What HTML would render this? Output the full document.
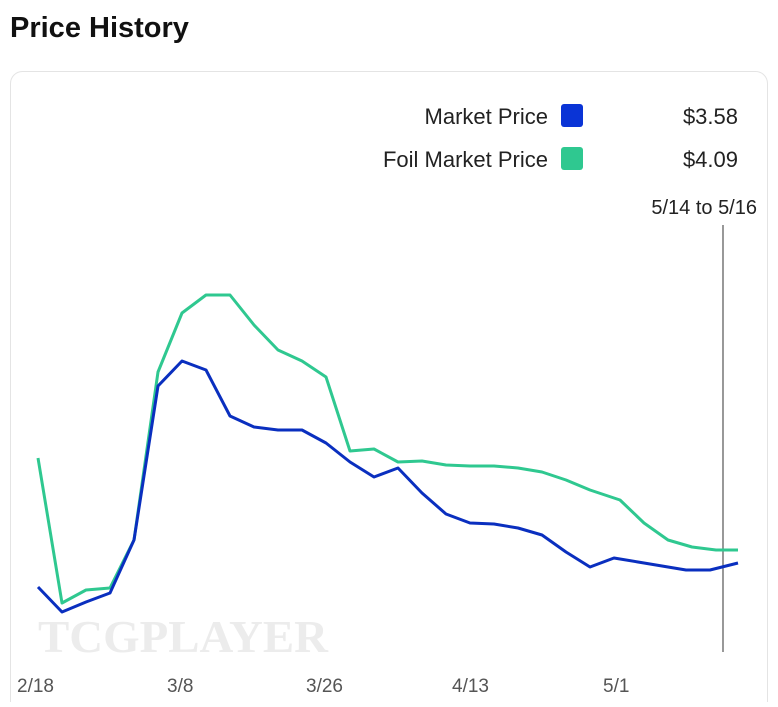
<!DOCTYPE html>
<html><head><style>
body{margin:0;background:#fff;width:778px;height:702px;overflow:hidden;font-family:"Liberation Sans",sans-serif;}
</style></head><body>
<svg width="778" height="702" xmlns="http://www.w3.org/2000/svg">
<text x="10" y="37" font-size="29" font-weight="bold" fill="#111" font-family="Liberation Sans, sans-serif">Price History</text>
<rect x="10.5" y="71.5" width="757" height="660" rx="12" fill="#fff" stroke="#e4e4e4"/>
<g font-family="Liberation Sans, sans-serif" fill="#222" font-size="22">
<text x="548" y="124" text-anchor="end">Market Price</text>
<text x="548" y="167" text-anchor="end">Foil Market Price</text>
<text x="738" y="124" text-anchor="end">$3.58</text>
<text x="738" y="167" text-anchor="end">$4.09</text>
<text x="757" y="214" text-anchor="end" font-size="20">5/14 to 5/16</text>
</g>
<rect x="561" y="104" width="22" height="23" rx="3" fill="#0a34d6"/>
<rect x="561" y="147" width="22" height="23" rx="3" fill="#2fc890"/>
<text x="38" y="652" font-size="46" font-weight="bold" fill="#ececec" font-family="Liberation Serif, serif" textLength="290" lengthAdjust="spacingAndGlyphs">TCGPLAYER</text>
<line x1="723" y1="225" x2="723" y2="652" stroke="#555" stroke-width="1.2"/>
<polyline fill="none" stroke="#2fc890" stroke-width="3" stroke-linejoin="round" points="38,458 62,603 86,590 110,588 134,540 158,372 182,313 206,295 230,295 254,325 278,350 302,361 326,377 350,451 374,449 398,462 422,461 446,465 470,466 494,466 518,468 542,472 566,480 590,490 620,500 644,523 668,540 692,547 716,550 738,550"/>
<polyline fill="none" stroke="#0a2fbf" stroke-width="3" stroke-linejoin="round" points="38,587 62,612 86,602 110,593 134,540 158,386 182,361 206,370 230,416 254,427 278,430 302,430 326,443 350,462 374,477 398,468 422,493 446,514 470,523 494,524 518,528 542,535 566,552 590,567 614,558 638,562 662,566 686,570 710,570 738,563"/>
<g font-family="Liberation Sans, sans-serif" fill="#555" font-size="19">
<text x="17" y="692">2/18</text>
<text x="167" y="692">3/8</text>
<text x="306" y="692">3/26</text>
<text x="452" y="692">4/13</text>
<text x="603" y="692">5/1</text>
</g>
</svg>
</body></html>
